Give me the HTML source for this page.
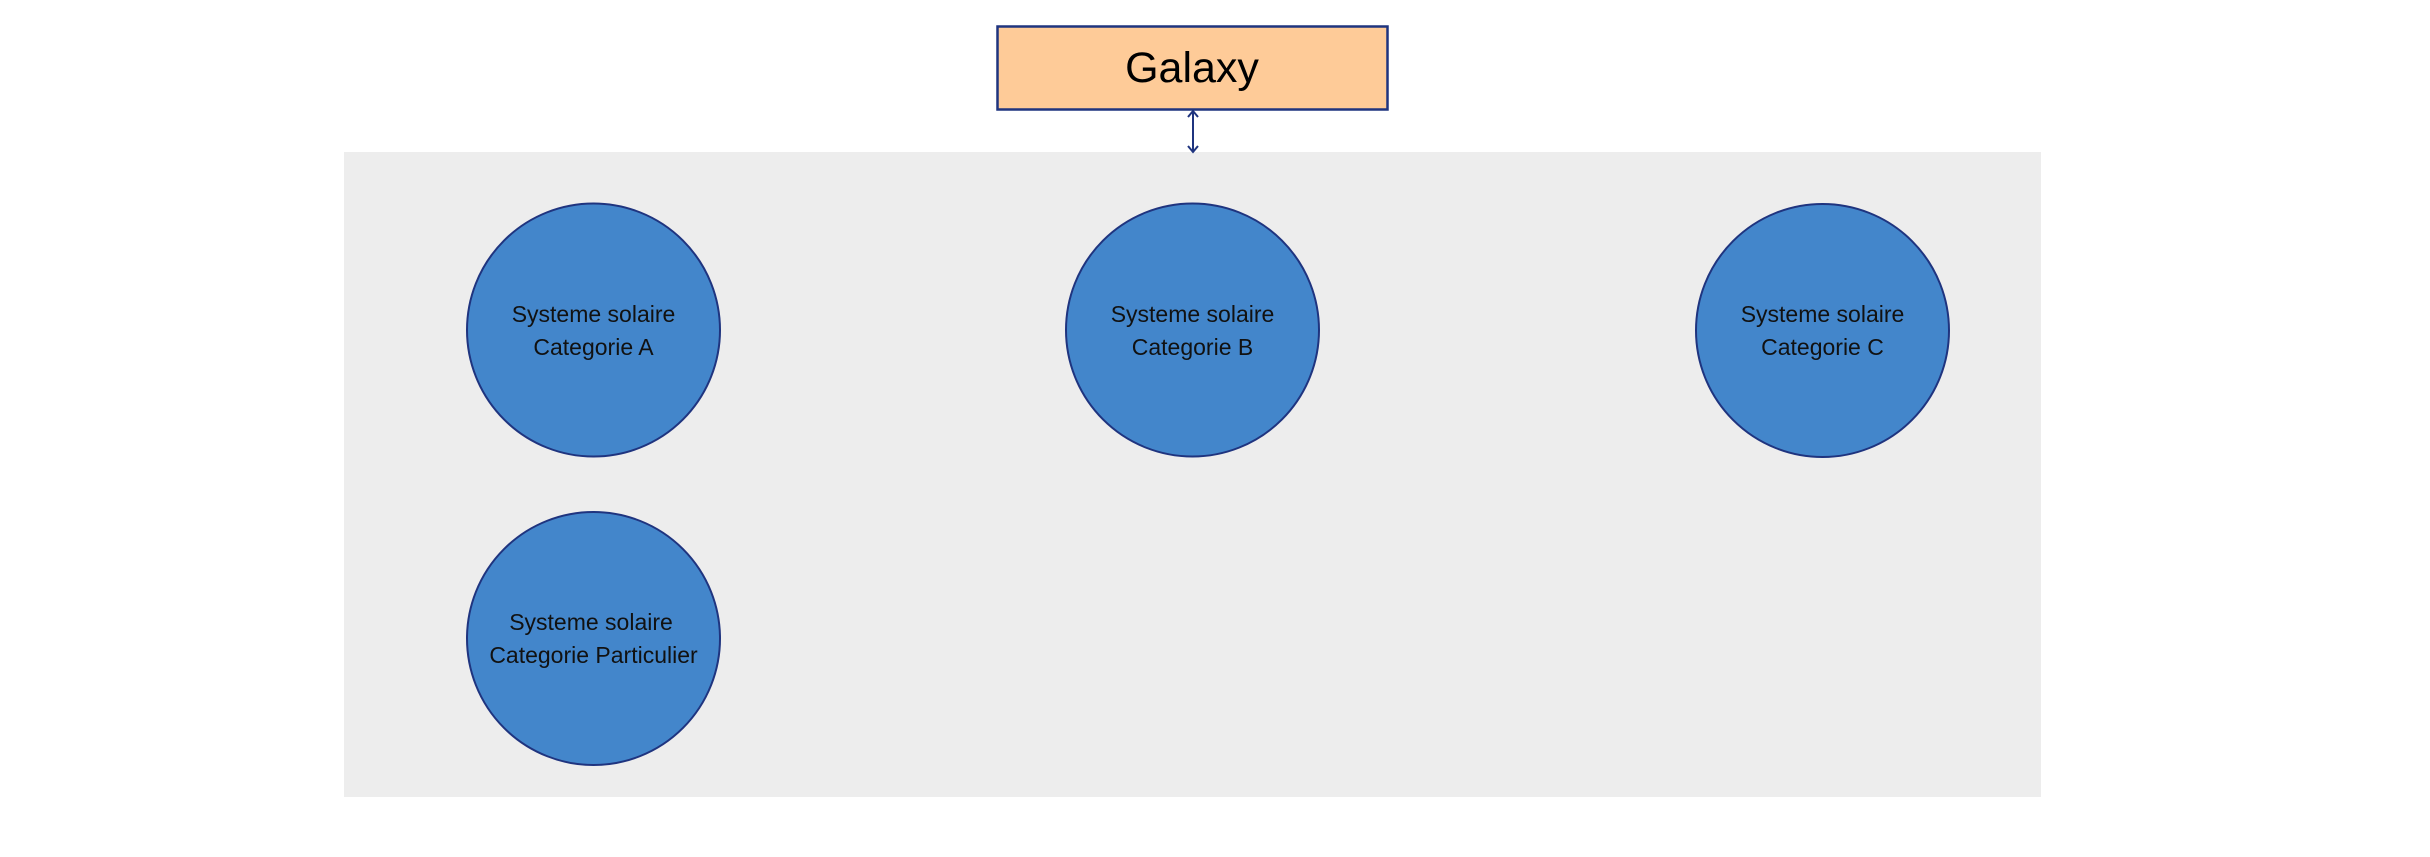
<!DOCTYPE html>
<html><head><meta charset="utf-8"><style>
html,body{margin:0;padding:0;background:#fff;width:2430px;height:857px;overflow:hidden}
</style></head><body>
<svg width="2430" height="857" xmlns="http://www.w3.org/2000/svg" font-family="Liberation Sans, Arial, sans-serif">
<rect x="344" y="152" width="1697" height="645" fill="#ededed"/>
<rect x="997.5" y="26.5" width="390" height="83" fill="#fecb98" stroke="#1f347f" stroke-width="2.5"/>
<text x="1192" y="82" font-size="43" text-anchor="middle" fill="#000">Galaxy</text>
<g stroke="#1f347f" stroke-width="2" fill="none">
<line x1="1193" y1="112" x2="1193" y2="151"/>
<polyline points="1188,117 1193,111 1198,117"/>
<polyline points="1188,146 1193,152 1198,146"/>
</g>
<g fill="#4386cb" stroke="#1f347f" stroke-width="2">
<circle cx="593.5" cy="330" r="126.5"/>
<circle cx="1192.5" cy="330" r="126.5"/>
<circle cx="1822.5" cy="330.5" r="126.5"/>
<circle cx="593.5" cy="638.5" r="126.5"/>
</g>
<g font-size="23" text-anchor="middle" fill="#111">
<text x="593.5" y="322">Systeme solaire</text><text x="593.5" y="355">Categorie A</text>
<text x="1192.5" y="322">Systeme solaire</text><text x="1192.5" y="355">Categorie B</text>
<text x="1822.5" y="322">Systeme solaire</text><text x="1822.5" y="355">Categorie C</text>
<text x="591" y="630">Systeme solaire</text><text x="593.5" y="663">Categorie Particulier</text>
</g>
</svg>
</body></html>
